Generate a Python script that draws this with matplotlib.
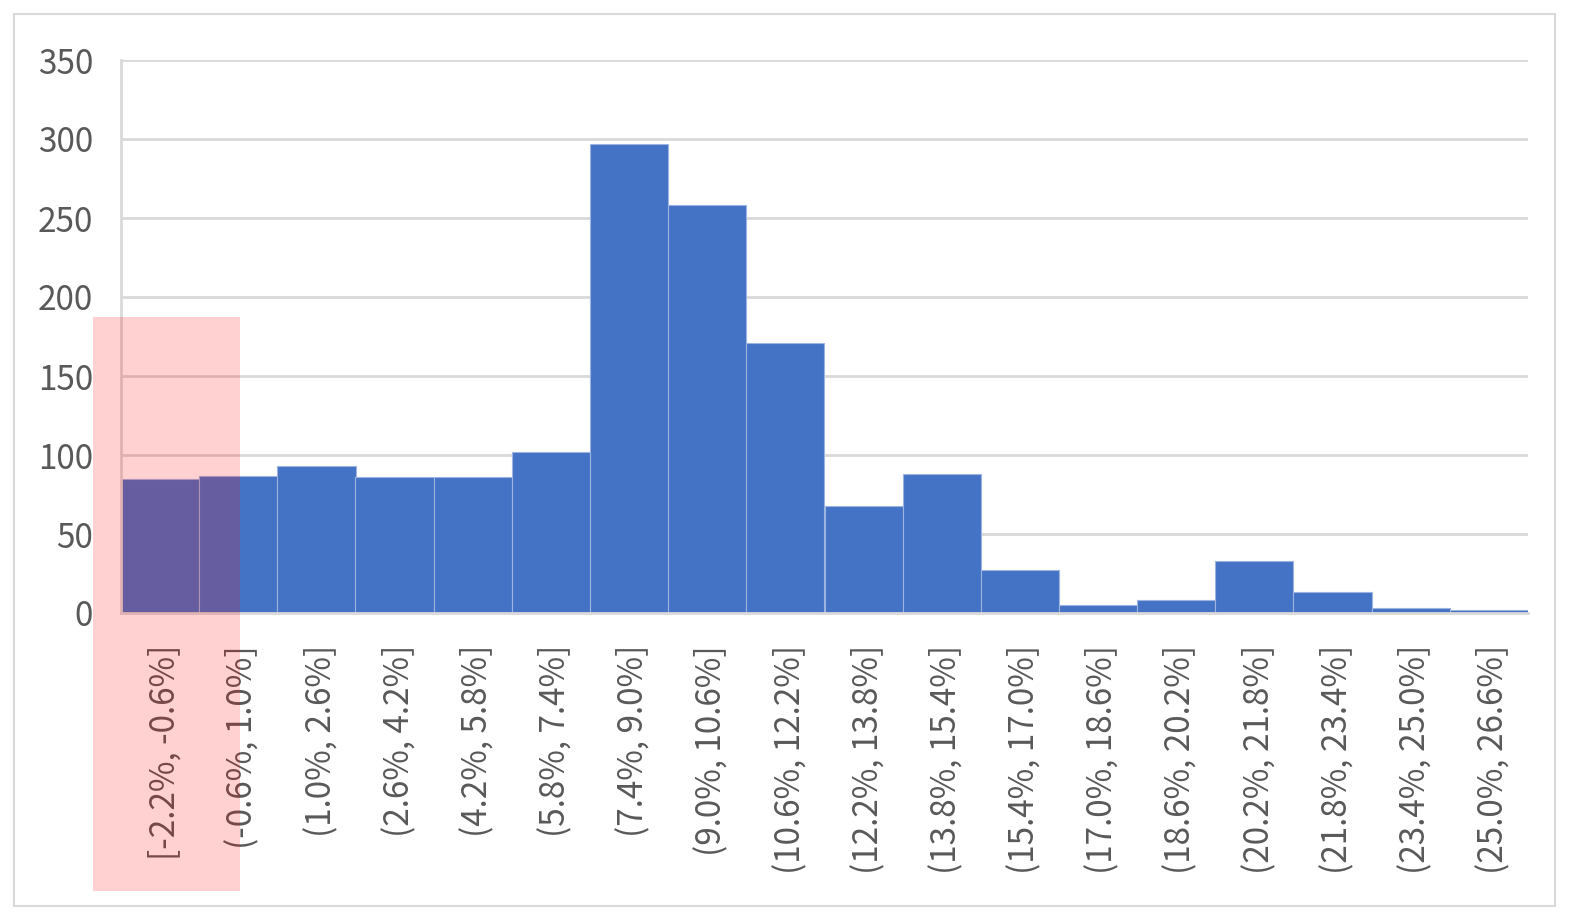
import numpy as np
import matplotlib.pyplot as plt
import matplotlib.transforms as mtransforms
from matplotlib.patches import Rectangle

plt.rcParams['font.family'] = ['Noto Sans CJK JP', 'DejaVu Sans']

bins = ["[-2.2%, -0.6%]", "(-0.6%, 1.0%]", "(1.0%, 2.6%]", "(2.6%, 4.2%]",
        "(4.2%, 5.8%]", "(5.8%, 7.4%]", "(7.4%, 9.0%]", "(9.0%, 10.6%]",
        "(10.6%, 12.2%]", "(12.2%, 13.8%]", "(13.8%, 15.4%]", "(15.4%, 17.0%]",
        "(17.0%, 18.6%]", "(18.6%, 20.2%]", "(20.2%, 21.8%]", "(21.8%, 23.4%]",
        "(23.4%, 25.0%]", "(25.0%, 26.6%]"]
counts = [85, 87, 93, 86, 86, 102, 297, 258, 171, 68, 88, 27, 5, 8, 33, 13, 3, 2]
yticks = [0, 50, 100, 150, 200, 250, 300, 350]

W, H = 1569, 917
fig = plt.figure(figsize=(W / 100, H / 100), dpi=100)
ax = fig.add_axes([121 / W, 1 - 613 / H, (1528 - 121) / W, (613 - 60) / H])

x = np.arange(len(counts))
ax.bar(x, counts, width=1.0, color='#4472C4', edgecolor='#9db4e0', linewidth=0.8, zorder=3)
ax.set_xlim(-0.5, len(counts) - 0.5)
ax.set_ylim(0, 350)
ax.set_yticks(yticks)
ax.grid(axis='y', color='#d9d9d9', linewidth=2, zorder=0)
ax.set_xticks(x)
ax.set_xticklabels(bins, rotation=90, va='top', ha='center')
ax.tick_params(axis='both', length=0, labelsize=24, labelcolor='#595959')
ax.tick_params(axis='x', pad=23)
ax.tick_params(axis='y', pad=20)
shift = mtransforms.ScaledTranslation(5 / 100, 0, fig.dpi_scale_trans)
for lab in ax.get_xticklabels():
    lab.set_transform(lab.get_transform() + shift)
for s in ['top', 'right']:
    ax.spines[s].set_visible(False)
for s in ['left', 'bottom']:
    ax.spines[s].set_color('#d9d9d9')
    ax.spines[s].set_linewidth(2)
    ax.spines[s].set_zorder(4)

# figure border
fig.patches.append(Rectangle((14 / W, 1 - 906 / H), (1555 - 14) / W, (906 - 14) / H,
                             transform=fig.transFigure, fill=False,
                             edgecolor='#d9d9d9', linewidth=1.5))
# highlight box over the first bin
fig.artists.append(Rectangle((93 / W, 1 - 891 / H), (240 - 93) / W, (891 - 317) / H,
                             transform=fig.transFigure, facecolor='red', alpha=0.18,
                             edgecolor='none', zorder=10))

fig.savefig('out.png', dpi=100)
